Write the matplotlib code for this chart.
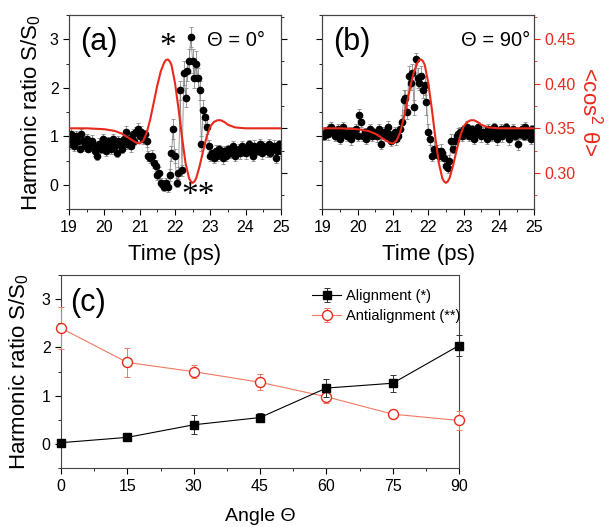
import numpy as np
import matplotlib
matplotlib.use("Agg")
import matplotlib.pyplot as plt
from matplotlib.ticker import MultipleLocator

plt.rcParams['font.family'] = ['Liberation Sans', 'DejaVu Sans']
plt.rcParams['mathtext.fontset'] = 'custom'
plt.rcParams['mathtext.rm'] = 'Liberation Sans'
plt.rcParams['mathtext.it'] = 'Liberation Sans:italic'

# ---- panel (a): Theta = 0 deg, harmonic ratio vs delay (0.05 ps steps from 19 ps)
t_start, t_step = 19.0, 0.05
ratio_0 = [
    0.85, 1.05, 0.95, 0.80, 1.00, 0.90, 0.75, 1.05, 0.90, 0.80,
    0.95, 0.75, 0.85, 0.90, 0.80, 0.70, 0.60, 0.85, 0.75, 0.95,
    0.80, 0.70, 0.90, 0.85, 0.75, 0.95, 0.80, 0.65, 0.90, 0.85,
    0.75, 0.95, 1.10, 0.85, 0.95, 0.80, 1.05, 0.90, 1.10, 1.15,
    1.00, 1.10, 0.95, 1.05, 0.90, 0.60, 0.55, 0.60, 0.45, 0.40,
    0.20, 0.25, 0.05, 0.00, -0.05, 0.05, -0.05, 0.20, 0.65, 1.15,
    0.60, 0.05, 0.25, 1.95, 0.30, 2.30, 1.80, 2.35, 2.55, 3.05,
    2.55, 2.20, 2.50, 2.20, 1.95, 0.85, 1.55, 1.40, 1.20, 0.80,
    0.60, 0.65, 0.55, 0.70, 0.60, 0.75, 0.65, 0.55, 0.70, 0.60,
    0.75, 0.65, 0.70, 0.80, 0.60, 0.70, 0.75, 0.65, 0.80, 0.70,
    0.65, 0.75, 0.85, 0.70, 0.60, 0.80, 0.75, 0.70, 0.85, 0.65,
    0.80, 0.75, 0.70, 0.85, 0.65, 0.75, 0.80, 0.55, 0.70, 0.85,
    0.70,
]
err_0 = [
    0.10, 0.12, 0.08, 0.10, 0.12, 0.10, 0.08, 0.10, 0.12, 0.10,
    0.10, 0.08, 0.10, 0.12, 0.10, 0.10, 0.08, 0.12, 0.10, 0.10,
    0.12, 0.10, 0.08, 0.10, 0.12, 0.10, 0.10, 0.08, 0.10, 0.12,
    0.10, 0.08, 0.12, 0.10, 0.10, 0.12, 0.10, 0.08, 0.10, 0.12,
    0.10, 0.12, 0.10, 0.08, 0.12, 0.10, 0.10, 0.12, 0.10, 0.12,
    0.10, 0.12, 0.10, 0.10, 0.08, 0.10, 0.10, 0.12, 0.15, 0.20,
    0.15, 0.10, 0.12, 0.20, 0.12, 0.25, 0.20, 0.20, 0.25, 0.20,
    0.25, 0.20, 0.25, 0.20, 0.20, 0.15, 0.20, 0.15, 0.15, 0.12,
    0.10, 0.08, 0.10, 0.12, 0.10, 0.08, 0.10, 0.12, 0.10, 0.10,
    0.08, 0.10, 0.12, 0.10, 0.10, 0.08, 0.10, 0.12, 0.10, 0.10,
    0.12, 0.10, 0.08, 0.10, 0.10, 0.12, 0.10, 0.08, 0.10, 0.12,
    0.10, 0.10, 0.12, 0.10, 0.08, 0.10, 0.12, 0.10, 0.10, 0.08,
    0.10,
]

# ---- panel (b): Theta = 90 deg
ratio_90 = [
    1.05, 1.00, 1.10, 1.05, 1.15, 1.20, 1.10, 1.00, 1.05, 1.15,
    0.95, 1.10, 1.20, 1.05, 1.00, 1.10, 0.95, 1.10, 1.05, 1.15,
    1.00, 1.45, 1.30, 1.00, 1.10, 0.95, 1.05, 1.15, 1.00, 1.10,
    1.05, 1.00, 1.15, 0.85, 1.05, 1.10, 1.00, 1.20, 1.05, 0.90,
    1.00, 1.10, 0.95, 1.00, 1.15, 1.30, 1.75, 1.80, 1.50, 2.25,
    2.10, 2.30, 1.60, 2.60, 2.20, 2.10, 2.25, 1.95, 2.05, 1.70,
    1.10, 0.95, 0.60, 0.75, 0.65, 0.70, 0.60, 0.70, 0.65, 0.55,
    0.40, 0.35, 0.50, 0.90, 0.75, 0.90, 1.00, 1.05, 1.10, 1.00,
    1.15, 1.05, 1.20, 1.00, 1.10, 1.15, 0.95, 1.05, 1.20, 1.10,
    1.00, 1.10, 1.05, 0.95, 1.15, 1.05, 1.00, 1.20, 1.10, 0.95,
    1.05, 1.15, 1.00, 1.10, 1.20, 1.05, 0.95, 1.10, 1.15, 1.00,
    1.10, 0.85, 1.05, 1.15, 1.00, 1.20, 1.05, 1.10, 0.95, 1.15,
    1.05,
]
err_90 = [
    0.10, 0.08, 0.10, 0.12, 0.10, 0.10, 0.08, 0.10, 0.12, 0.10,
    0.10, 0.12, 0.10, 0.08, 0.10, 0.10, 0.12, 0.10, 0.08, 0.10,
    0.10, 0.12, 0.10, 0.10, 0.08, 0.10, 0.12, 0.10, 0.10, 0.08,
    0.10, 0.12, 0.10, 0.10, 0.08, 0.10, 0.10, 0.12, 0.10, 0.10,
    0.08, 0.10, 0.12, 0.10, 0.10, 0.15, 0.20, 0.15, 0.15, 0.20,
    0.15, 0.20, 0.15, 0.12, 0.20, 0.15, 0.20, 0.15, 0.20, 0.25,
    0.15, 0.12, 0.10, 0.15, 0.10, 0.12, 0.10, 0.15, 0.10, 0.12,
    0.10, 0.10, 0.12, 0.15, 0.10, 0.12, 0.10, 0.12, 0.10, 0.10,
    0.08, 0.10, 0.12, 0.10, 0.10, 0.08, 0.10, 0.12, 0.10, 0.10,
    0.12, 0.10, 0.08, 0.10, 0.10, 0.12, 0.10, 0.08, 0.10, 0.12,
    0.10, 0.10, 0.12, 0.10, 0.08, 0.10, 0.12, 0.10, 0.10, 0.08,
    0.10, 0.12, 0.10, 0.10, 0.08, 0.10, 0.12, 0.10, 0.10, 0.08,
    0.10,
]

# ---- calculated alignment <cos^2 theta> (right axis)
t_cos = [19.0, 19.5, 20.0, 20.3, 20.5, 20.7, 20.9, 21.0, 21.1, 21.2,
         21.3, 21.4, 21.5, 21.6, 21.7, 21.75, 21.8, 21.85, 21.9, 22.0,
         22.1, 22.2, 22.3, 22.4, 22.45, 22.5, 22.55, 22.6, 22.7, 22.8,
         22.9, 23.0, 23.1, 23.2, 23.3, 23.4, 23.5, 23.7, 24.0, 25.0]
cos2 = [0.350, 0.350, 0.349, 0.347, 0.344, 0.339, 0.334, 0.333, 0.336, 0.345,
        0.360, 0.379, 0.398, 0.414, 0.424, 0.4265, 0.427, 0.425, 0.421, 0.401,
        0.372, 0.340, 0.311, 0.294, 0.2905, 0.289, 0.2905, 0.294, 0.308, 0.325,
        0.341, 0.352, 0.357, 0.359, 0.359, 0.357, 0.354, 0.351, 0.350, 0.350]

# ---- panel (c): peak ratios vs polarisation angle
angles = [0, 15, 30, 45, 60, 75, 90]
align = [0.03, 0.14, 0.40, 0.55, 1.16, 1.26, 2.04]
align_err = [0.05, 0.07, 0.20, 0.10, 0.19, 0.18, 0.22]
anti = [2.40, 1.69, 1.50, 1.28, 0.98, 0.62, 0.49]
anti_err = [0.43, 0.30, 0.14, 0.17, 0.12, 0.04, 0.19]

RED = '#e8291c'
GRAY = '#8a8a8a'

fig = plt.figure(figsize=(6.09, 5.27), dpi=100)

t = t_start + t_step * np.arange(len(ratio_0))


def time_panel(rect, ratio, err, label, theta_txt, theta_x, show_left, show_right):
    ax = fig.add_axes(rect)
    ax.errorbar(t, ratio, yerr=err, fmt='o', color='black', ms=4.5,
                ecolor=GRAY, elinewidth=0.6, capsize=1.5, capthick=0.6,
                zorder=3)
    ax.plot(t, ratio, color=GRAY, lw=0.6, zorder=2)
    ax.set_xlim(19, 25)
    ax.set_ylim(-0.5, 3.5)
    ax.xaxis.set_major_locator(MultipleLocator(1))
    ax.xaxis.set_minor_locator(MultipleLocator(0.5))
    ax.yaxis.set_major_locator(MultipleLocator(1))
    ax.yaxis.set_minor_locator(MultipleLocator(0.5))
    ax.tick_params(which='both', direction='out', labelsize=11.5)
    ax.tick_params(which='major', length=4)
    ax.tick_params(which='minor', length=2)
    if not show_left:
        ax.tick_params(axis='y', labelleft=False)
    else:
        ax.set_ylabel('Harmonic ratio S/S$_\\mathregular{0}$', fontsize=16,
                      labelpad=5)
    ax.set_xlabel('Time (ps)', fontsize=16, labelpad=7)
    ax.text(0.14, 0.86, label, transform=ax.transAxes, fontsize=22,
            ha='center', va='center')
    ax.text(theta_x, 0.87, theta_txt, transform=ax.transAxes, fontsize=14.5,
            ha='right', va='center')

    ax2 = ax.twinx()
    ax2.plot(t_cos, cos2, color=RED, lw=1.5, zorder=4)
    ax2.set_ylim(0.2594, 0.4767)
    ax2.yaxis.set_major_locator(MultipleLocator(0.05))
    ax2.yaxis.set_minor_locator(MultipleLocator(0.025))
    ax2.tick_params(which='both', direction='out', labelsize=11.5,
                    colors=RED if show_right else 'black')
    ax2.tick_params(which='major', length=4)
    ax2.tick_params(which='minor', length=2)
    if show_right:
        ax2.set_yticklabels([f'{v:.2f}' for v in ax2.get_yticks()])
        ax2.set_ylabel('<cos$^\\mathregular{2}$ \u03b8>', color=RED,
                       fontsize=16, rotation=270, labelpad=20)
        ax2.set_ylim(0.2594, 0.4767)
    else:
        ax2.tick_params(axis='y', labelright=False)
    for a in (ax, ax2):
        for s in a.spines.values():
            s.set_color('#444444')
    return ax


ax_a = time_panel([0.1133, 0.6028, 0.348, 0.3687], ratio_0, err_0, '(a)',
                  '\u0398 = 0\u00b0', 0.925, True, False)
ax_a.text(21.8, 2.85, '*', fontsize=24, family='Liberation Serif',
          ha='center', va='center', zorder=6)
ax_a.text(22.65, -0.22, '**', fontsize=24, family='Liberation Serif',
          ha='center', va='center', zorder=6)
time_panel([0.5292, 0.6028, 0.348, 0.3687], ratio_90, err_90, '(b)',
           '\u0398 = 90\u00b0', 0.98, False, True)

# ---- panel (c)
axc = fig.add_axes([0.1002, 0.1114, 0.6535, 0.3668])
axc.errorbar(angles, align, yerr=align_err, fmt='s-', color='black', ms=5.8,
             lw=0.8, ecolor='#333333', elinewidth=0.7, capsize=2, capthick=0.7,
             label='Alignment (*)', zorder=4, clip_on=False)
axc.errorbar(angles, anti, yerr=anti_err, fmt='o-', color='#f07a62', ms=7.2,
             mfc='white', mec=RED, lw=0.8, ecolor='#f07a62', elinewidth=0.7,
             capsize=2, capthick=0.7, label='Antialignment (**)',
             zorder=3, clip_on=False)
axc.set_xlim(0, 90)
axc.set_ylim(-0.5, 3.5)
axc.xaxis.set_major_locator(MultipleLocator(15))
axc.xaxis.set_minor_locator(MultipleLocator(7.5))
axc.yaxis.set_major_locator(MultipleLocator(1))
axc.yaxis.set_minor_locator(MultipleLocator(0.5))
axc.tick_params(which='both', direction='out', labelsize=11.5)
axc.tick_params(which='major', length=4)
axc.tick_params(which='minor', length=2)
for s in axc.spines.values():
    s.set_color('#444444')
axc.set_xlabel('Angle \u0398', fontsize=14, labelpad=10)
axc.set_ylabel('Harmonic ratio S/S$_\\mathregular{0}$', fontsize=16,
               labelpad=8)
axc.text(0.067, 0.853, '(c)', transform=axc.transAxes, fontsize=22,
         ha='center', va='center')
axc.legend(loc='upper left', bbox_to_anchor=(0.605, 0.98), frameon=False,
           fontsize=10.5, handlelength=2.0, handletextpad=0.3,
           labelspacing=0.4, borderpad=0.2)

fig.savefig('out.png', dpi=100)
